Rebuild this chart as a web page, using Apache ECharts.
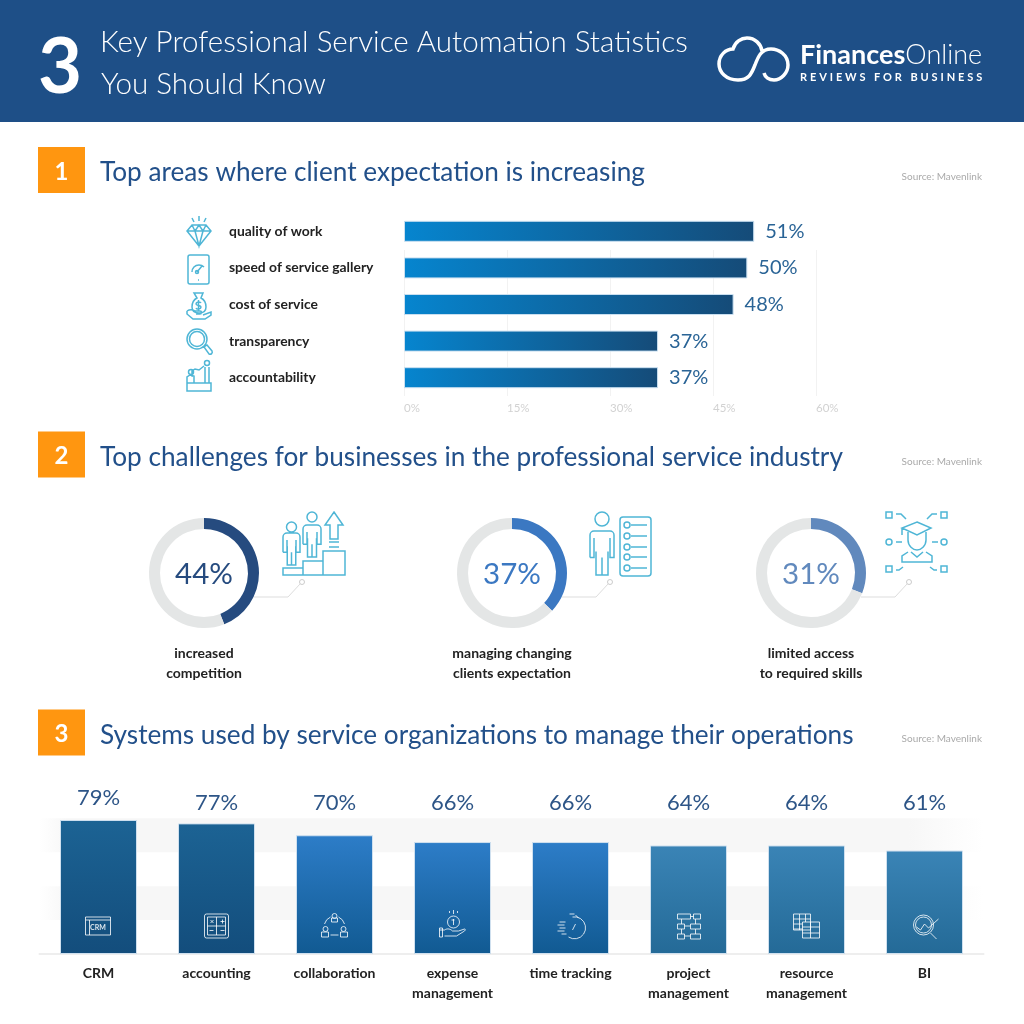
<!DOCTYPE html>
<html>
<head>
    <meta charset="utf-8">
    <title>Professional Service Automation Statistics</title>
    <script src="https://cdn.jsdelivr.net/npm/echarts@6/dist/echarts.min.js"></script>
    <style>
        body { margin: 0; background: #fff; }
        #wrap { position: relative; width: 1024px; height: 1024px; overflow: hidden; }
        #main { width: 1024px; height: 1024px; }
        #strap { position: absolute; left: 800px; top: 70px; font: 700 11px Lato; letter-spacing: 2.9px; color: #fff; white-space: nowrap; }
    </style>
</head>
<body>
<div id="wrap">
    <div id="main"></div>
    <div id="strap">REVIEWS FOR BUSINESS</div>
</div>
<script type="text/javascript">
// section 1
const areaNames = ['quality of work', 'speed of service gallery', 'cost of service', 'transparency', 'accountability'];
const areaValues = [51, 50, 48, 37, 37];
const areaTicks = [0, 15, 30, 45, 60];

// section 2
const challengeValues = [44, 37, 31];
const challengeNames = ['increased\ncompetition', 'managing changing\nclients expectation', 'limited access\nto required skills'];
const challengeColors = ['#264b7f', '#3b78c2', '#6189bd'];

// section 3
const systemNames = ['CRM', 'accounting', 'collaboration', 'expense\nmanagement', 'time tracking', 'project\nmanagement', 'resource\nmanagement', 'BI'];
const systemValues = [79, 77, 70, 66, 66, 64, 64, 61];
const systemTop = ['#1c6394', '#1c6394', '#2d7dc8', '#2d7dc8', '#2d7dc8', '#3a84b6', '#3a84b6', '#3a84b6'];
const systemBottom = ['#134d7c', '#134d7c', '#115a92', '#115a92', '#115a92', '#246a97', '#246a97', '#246a97'];

const sectionTitles = ['Top areas where client expectation is increasing', 'Top challenges for businesses in the professional service industry', 'Systems used by service organizations to manage their operations'];

const FONT = 'Lato';
const CYAN = '#4fb6d6';

function circ(x, y, r) {
    return `M${x - r} ${y}A${r} ${r} 0 1 1 ${x + r} ${y}A${r} ${r} 0 1 1 ${x - r} ${y}Z`;
}
function box(x, y, w, h) {
    return `M${x} ${y}h${w}v${h}h${-w}z`;
}
function person(x, headY, r, w, top, bottom) {
    const armEnd = top + (bottom - top) * 0.6;
    return circ(x, headY, r) +
        `M${x - w / 2} ${armEnd}V${top + 4}a4 4 0 0 1 4 -4H${x + w / 2 - 4}a4 4 0 0 1 4 4V${armEnd}h-4V${top + 7}` +
        `M${x - w / 2} ${armEnd}h4V${top + 7}` +
        `M${x - w / 4} ${armEnd - 6}V${bottom}H${x + w / 4}V${armEnd - 6}M${x} ${bottom}V${armEnd}`;
}

// graphic has no plain path type, so each icon gets its own registered shape
let shapeCount = 0;
function pathEl(d, x, y, style, z) {
    const name = 'iconShape' + (shapeCount++);
    echarts.graphic.registerShape(name, echarts.graphic.extendPath(d, {}));
    return { type: name, x: x, y: y, z: z || 0, style: style };
}

// icons are only decoration, drawn as plain outline paths
const cyanIcons = [
    // diamond
    'M199 216v5M192 218l2 4M206 218l-2 4M192 225h14l5 6-12 15-12-15zM187 231h24M195 231l4 15 4-15M192 225l3 6 4-6 4 6 3-6',
    // tablet and gauge
    'M190 255h17a2 2 0 0 1 2 2v25a2 2 0 0 1-2 2h-17a2 2 0 0 1-2-2v-25a2 2 0 0 1 2-2zM192 272a7 7 0 0 1 12-5M197 272l5-6M198 280h1' + circ(197, 272, 1.5),
    // money bag on a hand
    'M194 293h9l-2 5c4 2 5 6 5 9 0 4-3 6-7 6s-7-2-7-6c0-3 1-7 5-9zM201 303c-1-2-5-1-5 1s5 1 5 3-4 3-5 1M198.5 300v11M187 311c3-2 5-2 8 0h5c2 0 2 3 0 3h-4M187 311v3l6 5h12l6-4v-3l-8 3',
    // magnifier
    circ(197, 339, 10) + circ(197, 339, 7.5) + 'M204 347l3-2 5 6c1 2-1 4-3 3z',
    // people on a block
    'M187 391v-8h24v8zM192 377v-6l3-2 4 1 5-4M205 367v16M209 367v16' + circ(207, 363, 2.5) + circ(191, 372, 2.5) + 'M187 383v-6l3-2 4 1v7',
    // challenge 1
    box(283, 568, 20, 7) + box(303, 561, 20, 14) + box(323, 551, 22, 24) +
        person(291.5, 527, 5, 17, 533, 565) + person(312, 517, 5, 18, 525, 557) +
        'M334 512l9 13h-5v14h-8v-14h-5zM329 542h10M329 547h10',
    // challenge 2
    person(602, 519, 7, 24, 531, 575) +
        'M623 517h25a3 3 0 0 1 3 3v53a3 3 0 0 1-3 3h-25a3 3 0 0 1-3-3v-53a3 3 0 0 1 3-3z' +
        [525, 536, 547, 557, 568].map(y => circ(627, y, 3) + `M631 ${y}h16`).join(''),
    // challenge 3
    box(886, 512, 6, 6) + box(941, 512, 6, 6) + box(886, 566, 6, 6) + box(941, 566, 6, 6) +
        circ(889, 542, 3) + circ(944, 542, 3) +
        'M917 522l14 6-14 7-15-7zM902 528v7M908 532v8c0 6 5 10 9 10s9-4 9-10v-8M908 552l-6 4v6h30v-6l-6-4M911 552l6 5 6-5' +
        'M896 542h6M932 542h6M896 514h5l5 5M937 514h-5l-5 5M896 570h3l4-3M937 570h-3l-4-3'
];

// white icons sit around 0,0 and are moved onto the bars
const whiteIcons = [
    box(-13, -9, 25, 18) + 'M-13 -6h25M-9 -6v15',
    'M-10 -12h20a2 2 0 0 1 2 2v20a2 2 0 0 1-2 2h-20a2 2 0 0 1-2-2v-20a2 2 0 0 1 2-2zM-9 -9h18v18h-18zM0 -9v18M-9 0h18M-6 -6l3 3M-3 -6l-3 3M4 -4.5h4M6 -6.5v4M-7 4.5h4M4 4.5h4',
    circ(0, -10, 2.5) + box(-3, -8, 6, 4) + circ(-9, 3, 2.5) + box(-13, 6, 7, 5) + circ(9, 3, 2.5) + box(6, 6, 7, 5) + 'M-10 -2a11 11 0 0 1 6-7M10 -2a11 11 0 0 0-6-7M-4 9h8',
    circ(1, -4, 6) + 'M1 -7v6M-1 -6h3M1 -16v4M-3 -15v2M5 -15v2M-13 4h5c3-2 6-1 8 1h6l6-2c1 0 1 1 0 2l-8 5h-12M-13 2v9h3v-9z',
    'M2 -9a11 11 0 1 1-4 20M-1 -12h5M5 -11l3 3M2 4l3-6M-11 -4h6M-13 -1h7M-11 2h6M-13 5h7M-9 8h5',
    box(-11, -12, 13, 5) + box(5, -12, 7, 5) + box(-11, -2, 7, 5) + box(2, -2, 10, 5) + box(-11, 8, 7, 5) + box(2, 8, 10, 5) + 'M2 -9.5h3M-4 0h6M-4 10h6M-7 -7v5M7 -7v5M-7 3v5M7 3v5',
    box(-13, -12, 17, 16) + box(-4, -4, 17, 16) + 'M-13 -7h17M-13 -2h9M-13 3h9M-7 -12v16M-1 -12v8M-4 1h17M-4 7h17M4 -4v16',
    circ(-1, -1, 10) + circ(-1, -1, 8) + 'M6 7l6 6M-8 1l4 3 4-6 4 4 10-9'
];

const graphics = [];
function addText(x, y, text, size, color, extra) {
    graphics.push({
        type: 'text', x: x, y: y,
        style: Object.assign({ text: text, fontFamily: FONT, fontSize: size, fill: color, verticalAlign: 'middle' }, extra || {})
    });
}

// header
graphics.push({ type: 'rect', z: -5, shape: { x: 0, y: 0, width: 1024, height: 122 }, style: { fill: '#1e4f87' } });
addText(38, 68, '3', 76, '#fff', { fontWeight: 700 });
addText(100, 42, 'Key Professional Service Automation Statistics', 29.6, '#fff', { fontWeight: 300 });
addText(101, 84, 'You Should Know', 29.6, '#fff', { fontWeight: 300 });
graphics.push(pathEl('M738 80c-12 0-19-8-19-16 0-9 7-15 14-15 2-7 8-11 14-11 8 0 14 6 15 13M738 80c12 0 14-8 17-15 3-8 6-16 16-16 8 0 17 6 17 16 0 8-7 15-14 15-5 0-9-3-10-7', 0, 0,
    { fill: 'none', stroke: '#fff', lineWidth: 3.5 }));
graphics.push({
    type: 'text', x: 800, y: 55,
    style: {
        text: '{b|Finances}{l|Online}', verticalAlign: 'middle',
        rich: {
            b: { fontFamily: FONT, fontWeight: 700, fontSize: 27, fill: '#fff' },
            l: { fontFamily: FONT, fontWeight: 300, fontSize: 27, fill: '#fff' }
        }
    }
});

// section headers
const sectionY = [170, 454.5, 732.5];
const sourceY = [177, 462, 739];
sectionTitles.forEach((t, i) => {
    graphics.push({ type: 'rect', shape: { x: 38, y: sectionY[i] - 23, width: 47, height: 46 }, style: { fill: '#ff9610' } });
    addText(61.5, sectionY[i] + 2, String(i + 1), 24, '#fff', { align: 'center', fontWeight: 700 });
    addText(100, sectionY[i] + 3, t, 26.2, '#22508a');
    addText(982, sourceY[i], 'Source: Mavenlink', 10, '#aaaaaa', { align: 'right' });
});

// donut leaders and captions
const donutX = [204, 512, 811];
donutX.forEach((x, i) => {
    graphics.push({
        type: 'polyline', z: -1,
        shape: { points: [[x + 50, 597], [x + 84, 597], [x + 96, 584]] },
        style: { fill: 'none', stroke: '#dddddd', lineWidth: 1 }
    });
    graphics.push({ type: 'circle', shape: { cx: x + 98, cy: 582, r: 2.5 }, style: { fill: '#fff', stroke: '#cccccc', lineWidth: 1 } });
    challengeNames[i].split('\n').forEach((line, j) => {
        addText(x, 653 + j * 20, line, 14, '#222222', { align: 'center', fontWeight: 700 });
    });
});

cyanIcons.forEach(p => {
    graphics.push(pathEl(p, 0, 0, { fill: 'none', stroke: CYAN, lineWidth: 1.5 }));
});
whiteIcons.forEach((p, i) => {
    graphics.push(pathEl(p, 98.5 + i * 118, 926, { fill: 'none', stroke: 'rgba(255,255,255,0.8)', lineWidth: 1 }, 10));
});
addText(90, 928, 'CRM', 7, 'rgba(255,255,255,0.85)', { fontWeight: 700 });
graphics[graphics.length - 1].z = 11;

const bandFade = new echarts.graphic.LinearGradient(0, 0, 1, 0, [
    { offset: 0, color: '#ffffff' }, { offset: 0.03, color: '#f7f7f7' },
    { offset: 0.92, color: '#f7f7f7' }, { offset: 1, color: '#ffffff' }
]);

var myChart = echarts.init(document.getElementById('main'));
var option = {
    animation: false,
    backgroundColor: '#ffffff',
    graphic: { elements: graphics },
    grid: [
        { left: 404, width: 412, top: 213, height: 183 },
        { left: 39.5, width: 944, top: 818.3, height: 135.7 },
        // the gridlines of section 1 start lower than the bars, so they get a grid of their own
        { left: 404, width: 412, top: 250, height: 146 }
    ],
    xAxis: [
        {
            gridIndex: 0, type: 'value', min: areaTicks[0], max: areaTicks[4], interval: areaTicks[1],
            axisLine: { show: false }, axisTick: { show: false }, splitLine: { show: false }, axisLabel: { show: false }
        },
        {
            gridIndex: 1, type: 'category', data: systemNames,
            axisTick: { show: false },
            axisLine: { lineStyle: { color: '#eeeeee', width: 2 } },
            axisLabel: { color: '#222222', fontFamily: FONT, fontWeight: 700, fontSize: 14, lineHeight: 20, margin: 9, interval: 0 }
        },
        {
            gridIndex: 2, type: 'value', min: areaTicks[0], max: areaTicks[4], interval: areaTicks[1],
            axisLine: { show: false }, axisTick: { show: false },
            splitLine: { lineStyle: { color: '#f2f2f2' } },
            axisLabel: { formatter: '{value}%', color: '#d2d2d2', fontFamily: FONT, fontSize: 11.5, align: 'left', margin: 6 }
        }
    ],
    yAxis: [
        {
            gridIndex: 0, type: 'category', data: areaNames, inverse: true,
            axisLine: { show: false }, axisTick: { show: false },
            axisLabel: { color: '#222222', fontFamily: FONT, fontWeight: 700, fontSize: 13.9, align: 'left', margin: 175 }
        },
        {
            gridIndex: 1, type: 'value', min: 0, max: 80, interval: 20,
            axisLine: { show: false }, axisTick: { show: false }, axisLabel: { show: false },
            splitLine: { show: false },
            splitArea: { show: true, areaStyle: { color: ['rgba(255,255,255,0)', bandFade] } }
        },
        {
            gridIndex: 2, type: 'value', min: 0, max: 1, show: false
        }
    ],
    series: [
        {
            type: 'bar', xAxisIndex: 0, yAxisIndex: 0, silent: true,
            data: areaValues, barWidth: 21,
            itemStyle: {
                borderColor: '#c9dff0', borderWidth: 1,
                color: new echarts.graphic.LinearGradient(0, 0, 1, 0, [
                    { offset: 0, color: '#0685cf' }, { offset: 1, color: '#154b78' }
                ])
            },
            label: { show: true, position: 'right', distance: 11, formatter: '{c}%', color: '#2a6496', fontFamily: FONT, fontSize: 20 }
        },
        {
            type: 'bar', xAxisIndex: 1, yAxisIndex: 1, silent: true, barWidth: 77,
            data: systemValues.map((v, i) => ({
                value: v,
                itemStyle: {
                    borderColor: '#cfe0ef', borderWidth: 1,
                    color: new echarts.graphic.LinearGradient(0, 0, 0, 1, [
                        { offset: 0, color: systemTop[i] }, { offset: 1, color: systemBottom[i] }
                    ])
                }
            })),
            label: { show: true, position: 'top', formatter: '{c}%', color: '#2d5587', fontFamily: FONT, fontSize: 22 },
            // the percentages sit on one level, only the first one is raised
            labelLayout: p => ({ y: p.dataIndex === 0 ? 798 : 803, align: 'center', verticalAlign: 'middle' })
        }
    ].concat(challengeValues.map((v, i) => ({
        type: 'pie', silent: true, center: [donutX[i], 573], radius: [44, 55],
        startAngle: 90, clockwise: true, labelLine: { show: false },
        data: [
            { value: v, itemStyle: { color: challengeColors[i] },
              label: { show: true, position: 'center', offset: [0, 1], formatter: v + '%', color: challengeColors[i], fontFamily: FONT, fontSize: 29.5 } },
            { value: 100 - v, itemStyle: { color: '#e4e6e6' }, label: { show: false } }
        ]
    })))
};
myChart.setOption(option);
</script>
</body>
</html>
